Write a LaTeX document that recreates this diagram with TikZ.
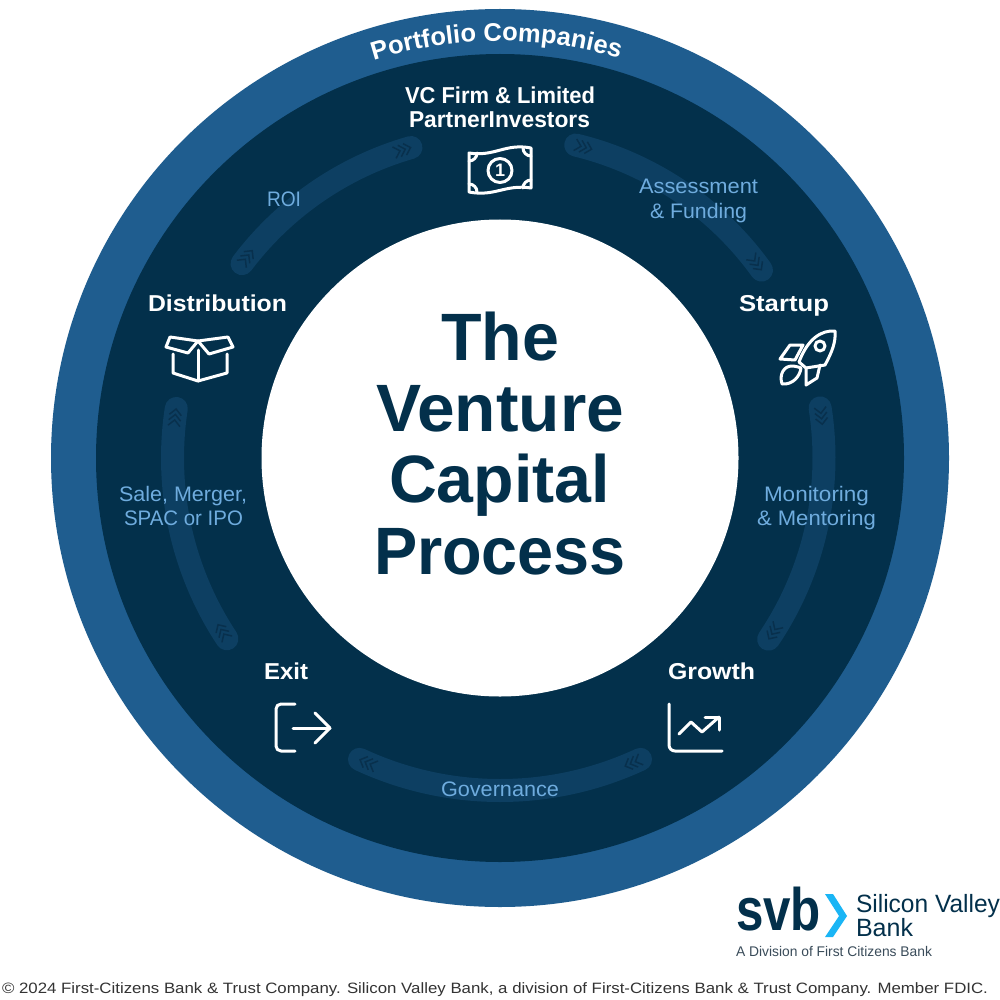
\documentclass[tikz,border=0pt]{standalone}
\usepackage{fontspec}
\usepackage{graphicx}
\usetikzlibrary{decorations.text}
\setmainfont{Liberation Sans}
\definecolor{ringblue}{HTML}{1F5D8F}
\definecolor{navy}{HTML}{03304B}
\definecolor{bandblue}{HTML}{0D3F62}
\definecolor{chevblue}{HTML}{08304D}
\definecolor{lightblue}{HTML}{6FACDE}
\definecolor{skyblue}{HTML}{1AB5F5}
\definecolor{greytext}{HTML}{3A4C5A}
\definecolor{foot}{HTML}{333333}
\newcommand\fB[1]{\fontsize{#1}{#1}\selectfont\bfseries}
\newcommand\fR[1]{\fontsize{#1}{#1}\selectfont}
\newcommand\lbl[7]{\node[lab,text=#6] (#1) at (#2,-#4) {#5\resizebox{\dimexpr#3pt-#2pt\relax}{\height}{#7}};}
\newcommand\bandarc[4]{%
  \draw[band] ([shift={(c)}]#1:#3) arc[start angle=#1,end angle=#2,radius=#3];
  \pgfmathsetmacro\aa{#1-1.5}\pgfmathsetmacro\bb{#2+1.5}%
  \pic[rotate=\aa-90] at ([shift={(c)}]\aa:#3) {chevs};
  \pic[rotate=\bb-90] at ([shift={(c)}]\bb:#3) {chevs};
}
\tikzset{
  x=1pt,y=1pt,
  lab/.style={anchor=base west,inner sep=0pt,outer sep=0pt},
  band/.style={draw=bandblue,line width=23pt,line cap=round},
  icon/.style={draw=white,line width=3pt,line cap=round,line join=round},
  pics/chevs/.style={code={
    \foreach \d in {-5.5,0,5.5}
      \draw[chevblue,line width=1.5pt,line cap=butt,line join=miter] (\d-3.5,6)--(\d+2.5,0)--(\d-3.5,-6);
  }}
}
\begin{document}
\begin{tikzpicture}
\useasboundingbox (0,0) rectangle (1000,-1000);
\fill[white] (0,0) rectangle (1000,-1000);
\coordinate (c) at (500,-458);
\fill[ringblue] (c) circle[radius=449];
\fill[navy] (c) circle[radius=404];
\fill[white] (c) circle[radius=238.5];
% bands
\bandarc{143}{106}{323}{}
\bandarc{76.4}{35.7}{322}{}
\bandarc{8.9}{-34}{324}{}
\bandarc{-65}{-115}{332.5}{}
\bandarc{213.5}{171.3}{327.5}{}
% curved title
\path[postaction={decorate},decoration={text along path,text align=center,text={|\color{white}\fB{25.5}|Portfolio Companies}}]
  ([shift={(c)}]125.5:417) arc[start angle=125.5,end angle=55.5,radius=417];
% labels
\lbl{vc}{405}{595}{104}{\fB{23}}{white}{VC Firm \& Limited}
\lbl{inv}{409}{590}{128}{\fB{23}}{white}{PartnerInvestors}
\lbl{startup}{739}{829}{311}{\fB{23}}{white}{Startup}
\lbl{distribution}{148}{287}{311}{\fB{23}}{white}{Distribution}
\lbl{exit}{264}{308}{679}{\fB{23}}{white}{Exit}
\lbl{growth}{668}{755}{679}{\fB{23}}{white}{Growth}
\lbl{roi}{267}{301}{207}{\fR{21}}{lightblue}{ROI}
\lbl{assess}{639}{758}{194}{\fR{21}}{lightblue}{Assessment}
\lbl{fund}{650}{747}{218.5}{\fR{21}}{lightblue}{\& Funding}
\lbl{monit}{764}{869}{501}{\fR{21}}{lightblue}{Monitoring}
\lbl{mentor}{757}{876}{525.5}{\fR{21}}{lightblue}{\& Mentoring}
\lbl{sale}{119}{247}{501}{\fR{21}}{lightblue}{Sale, Merger,}
\lbl{spac}{124}{243}{525.5}{\fR{21}}{lightblue}{SPAC or IPO}
\lbl{gov}{441}{559}{796}{\fR{21}}{lightblue}{Governance}
\lbl{the}{441}{559}{360}{\fB{67}}{navy}{The}
\lbl{venture}{376}{624}{431}{\fB{67}}{navy}{Venture}
\lbl{capital}{389}{610}{502}{\fB{67}}{navy}{Capital}
\lbl{process}{374}{626}{574}{\fB{67}}{navy}{Process}
% money icon
\draw[icon] (469,-153) .. controls (495,-157) and (505,-143) .. (531,-148) -- (531,-188)
  .. controls (505,-184) and (495,-197) .. (469,-192) -- cycle;
\draw[icon] (469,-161) arc[start angle=-90,end angle=0,radius=8];
\draw[icon] (523,-148) arc[start angle=180,end angle=270,radius=8];
\draw[icon] (469,-184) arc[start angle=90,end angle=0,radius=8];
\draw[icon] (523,-188) arc[start angle=180,end angle=90,radius=8];
\draw[icon] (500,-170.5) circle[radius=12];
\node[inner sep=0pt,text=white,font=\fB{18}] (one) at (500,-170.5) {1};
% rocket
\draw[icon] (835,-331) .. controls (822,-330) and (808,-338) .. (799,-362) -- (806,-368) -- (825,-365)
  .. controls (832,-352) and (836,-342) .. (835,-331) -- cycle;
\draw[icon] (820,-346) circle[radius=5];
\draw[icon] (790,-345) -- (803,-345) -- (795,-360) -- (780,-359) -- cycle;
\draw[icon] (806,-368) -- (806,-385) -- (817,-378) -- (820,-365);
\draw[icon] (782,-384) .. controls (779,-374) and (784,-366) .. (792,-366) .. controls (796,-366) and (801,-368) .. (801,-368)
  .. controls (800,-376) and (793,-385) .. (782,-384) -- cycle;
% box
\draw[icon] (166,-347) -- (170,-337) -- (198,-341) -- (188,-353) -- cycle;
\draw[icon] (198,-341) -- (228,-337) -- (233,-347) -- (209,-354) -- cycle;
\draw[icon] (173,-354) -- (173,-373) -- (198,-381) -- (227,-373) -- (227,-354);
\draw[icon] (198,-350) -- (198,-381);
% exit
\draw[icon,rounded corners=5pt] (295,-704) -- (276,-704) -- (276,-751) -- (295,-751);
\draw[icon] (293,-728) -- (330,-728);
\draw[icon] (315,-713) -- (330,-728) -- (315,-743);
% growth
\draw[icon,rounded corners=6pt] (669,-704) -- (669,-751) -- (722,-751);
\draw[icon] (679,-734) -- (691,-722) -- (702,-732) -- (719,-717);
\draw[icon] (705,-717) -- (719,-717) -- (719,-730);
% logo
\lbl{svb}{736}{821}{930}{\fB{60}}{navy}{svb}
\fill[skyblue] (825,-894) -- (833,-894) -- (847,-916) -- (833,-937) -- (825,-937) -- (839,-916) -- cycle;
\lbl{sv}{856}{1000}{912}{\fR{25}}{navy}{Silicon Valley}
\lbl{bank}{856}{913}{936}{\fR{25}}{navy}{Bank}
\lbl{division}{736}{932}{956}{\fR{14}}{greytext}{A Division of First Citizens Bank}
\lbl{footer}{2}{988}{993}{\fR{15}}{foot}{© 2024 First-Citizens Bank \& Trust Company. Silicon Valley Bank, a division of First-Citizens Bank \& Trust Company. Member FDIC.}
\end{tikzpicture}
\end{document}
